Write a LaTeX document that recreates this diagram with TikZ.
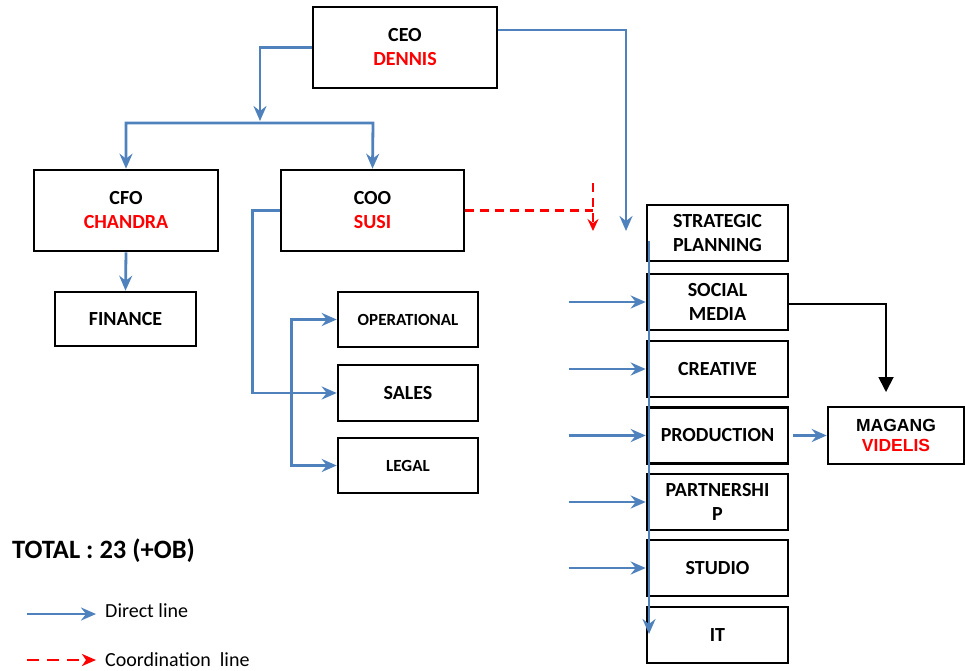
\documentclass[tikz,border=0pt]{standalone}
\usepackage{fontspec}
\setmainfont{Carlito}
\newfontfamily\arialfont{Liberation Sans}
\usetikzlibrary{arrows.meta}
\definecolor{lineblue}{RGB}{79,129,189}
\definecolor{namered}{RGB}{255,0,0}
\tikzset{
	box/.style={draw,line width=2.6pt,inner sep=0pt,align=center,font=\fontsize{20}{24}\selectfont\bfseries},
	smallbox/.style={box,font=\fontsize{17}{21}\selectfont\bfseries},
	deptbox/.style={box,minimum width=141pt,minimum height=56pt},
	dline/.style={lineblue,line width=2.8pt,->},
	cline/.style={namered,line width=2.8pt,dash pattern=on 9pt off 6pt},
	>={Stealth[length=15pt,width=13pt,inset=5pt]},
}
\begin{document}
\begin{tikzpicture}[x=1pt,y=-1pt]
			\useasboundingbox (0,0) rectangle (965,670);
			\node[box,minimum width=184pt,minimum height=81pt] (ceo) at (405,47.5) {CEO\\\textcolor{namered}{DENNIS}};
			\node[box,minimum width=184pt,minimum height=81pt] (cfo) at (126,210.5) {CFO\\\textcolor{namered}{CHANDRA}};
			\node[box,minimum width=183pt,minimum height=81pt] (coo) at (372.5,210.5) {COO\\\textcolor{namered}{SUSI}};
			\node[box,minimum width=141pt,minimum height=54pt] (finance) at (125.5,319) {FINANCE};
			\node[smallbox,minimum width=140pt,minimum height=55pt] (oper) at (408,319.5) {OPERATIONAL};
			\node[box,minimum width=140pt,minimum height=56pt] (sales) at (408,393) {SALES};
			\node[smallbox,minimum width=140pt,minimum height=55pt] (legal) at (408,465.5) {LEGAL};
			\node[deptbox] (strat) at (717.5,233) {STRATEGIC\\PLANNING};
			\node[deptbox] (social) at (717.5,302) {SOCIAL\\MEDIA};
			\node[deptbox] (creative) at (717.5,369) {CREATIVE};
			\node[deptbox] (prod) at (717.5,435.5) {PRODUCTION};
			\node[deptbox] (partner) at (717.5,502) {PARTNERSHI\\P};
			\node[deptbox] (studio) at (717.5,568) {STUDIO};
			\node[deptbox] (it) at (717.5,635) {IT};
			\node[box,minimum width=136pt,minimum height=57pt,font=\fontsize{17.5}{20}\selectfont\arialfont\bfseries] (magang) at (896,435.5) {MAGANG\\\textcolor{namered}{VIDELIS}};
			\coordinate (ceodown) at (260,121);
			\coordinate (deptin) at (626,231);
			\coordinate (coordtop) at (593,183);
			\coordinate (coordtip) at (593,231);
			\coordinate (bustop) at (649,241);
			\coordinate (busend) at (649,634);
			\coordinate (internin) at (886,392);
			\draw[dline] (ceo.west) -| (ceodown);
			\draw[dline,<->] (cfo.north) -- (126,123) -- (373,123) -- (coo.north);
			\draw[dline] ([yshift=17.5pt]ceo.east) -| (deptin);
			\draw[dline] (cfo.south) -- (finance.north);
			\draw[dline] (coo.west) -- ++(-27,0) |- (sales.west);
			\draw[dline,<->] (oper.west) -- ++(-45,0) |- (legal.west);
			\draw[cline] (coo.east) -- (coordtop |- coo.east);
			\draw[cline,-{Stealth[length=12pt,width=11pt,inset=4pt]}] (coordtop) -- (coordtip);
			\draw[dline] (bustop) -- (busend);
			\foreach \d in {social,creative,prod,partner,studio}
				\draw[dline] ([xshift=-77pt]\d.west) -- (\d.west);
			\draw[dline] ([xshift=4pt]prod.east) -- (magang.west);
			\draw[black,line width=1.8pt,-{Triangle[length=15pt,width=15pt]}] ([yshift=-2pt]social.east) -| (internin);
			\node[anchor=west,inner sep=0pt,font=\fontsize{26.5}{30}\selectfont\bfseries] (total) at (12,551) {TOTAL : 23 (+OB)};
			\node[anchor=west,inner sep=0pt,font=\fontsize{20}{24}\selectfont] (direct) at (105,611) {Direct line};
			\node[anchor=west,inner sep=0pt,font=\fontsize{20}{24}\selectfont] (coordination) at (105,660) {Coordination\ \ line};
			\draw[dline] (27,614) -- ([xshift=-9pt]direct.west |- 0,614);
			\draw[cline,dash pattern=on 12pt off 8pt,-{Stealth[length=14pt,width=12pt,inset=4pt]}] (27,660) -- ([xshift=-9pt]coordination.west);
		\end{tikzpicture}
\end{document}
